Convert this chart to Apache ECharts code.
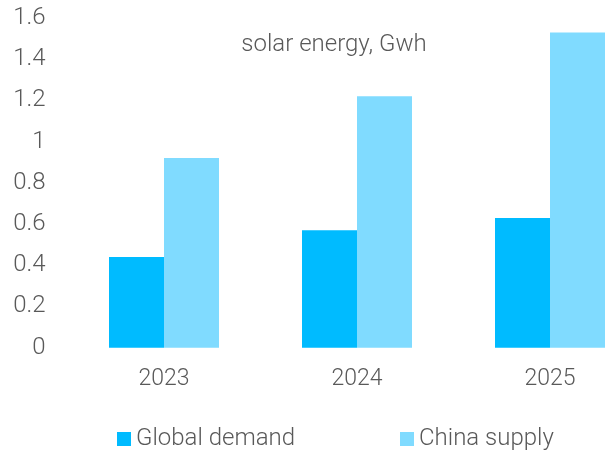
<!DOCTYPE html>
<html>
<head>
<meta charset="utf-8">
<script src="https://cdn.jsdelivr.net/npm/echarts@6/dist/echarts.min.js"></script>
<style>
  html, body {margin: 0; padding: 0; background: #fff; overflow: hidden; width: 614px; height: 450px;}
  /* the reference plot runs past the right edge, so the canvas is wider and clipped */
  #chart {width: 680px; height: 450px;}
</style>
</head>
<body>
<div id="chart"></div>
<script>
const years = ['2023', '2024', '2025'];
const globalDemand = [0.44, 0.57, 0.63];
const chinaSupply = [0.92, 1.22, 1.53];
const yTicks = [0, 0.2, 0.4, 0.6, 0.8, 1, 1.2, 1.4, 1.6];

const textColor = '#595959';
const font = 'Roboto';
const labelStyle = {fontFamily: font, fontWeight: 300, fontSize: 24, color: textColor};

const myChart = echarts.init(document.getElementById('chart'));
myChart.setOption({
  animation: false,
  textStyle: {fontFamily: font},
  title: {
    text: 'solar energy, Gwh',
    left: 329,
    top: 28,
    textAlign: 'center',
    textStyle: {...labelStyle}
  },
  legend: [
    {
      data: ['Global demand'],
      left: 112,
      top: 422,
      itemWidth: 14,
      itemHeight: 14,
      icon: 'rect',
      textStyle: {...labelStyle}
    },
    {
      data: ['China supply'],
      left: 395,
      top: 422,
      itemWidth: 14,
      itemHeight: 14,
      icon: 'rect',
      textStyle: {...labelStyle}
    }
  ],
  grid: {
    left: 67.5,
    top: 18,
    width: 579,
    height: 329.7,
    containLabel: false
  },
  xAxis: {
    type: 'category',
    data: years,
    axisLine: {show: false},
    axisTick: {show: false},
    axisLabel: {...labelStyle, fontSize: 23, margin: 20}
  },
  yAxis: {
    type: 'value',
    min: yTicks[0],
    max: yTicks[yTicks.length - 1],
    interval: 0.2,
    splitLine: {show: false},
    axisLine: {show: false},
    axisTick: {show: false},
    axisLabel: {
      ...labelStyle, margin: 22,
      formatter(val) { return String(Math.round(val * 10) / 10); }
    }
  },
  series: [
    {
      name: 'Global demand',
      type: 'bar',
      data: globalDemand,
      barWidth: 55,
      barGap: '0%',
      itemStyle: {color: '#00BBFF'}
    },
    {
      name: 'China supply',
      type: 'bar',
      data: chinaSupply,
      barWidth: 55,
      barGap: '0%',
      itemStyle: {color: '#80DBFF'}
    }
  ]
});
</script>
</body>
</html>
